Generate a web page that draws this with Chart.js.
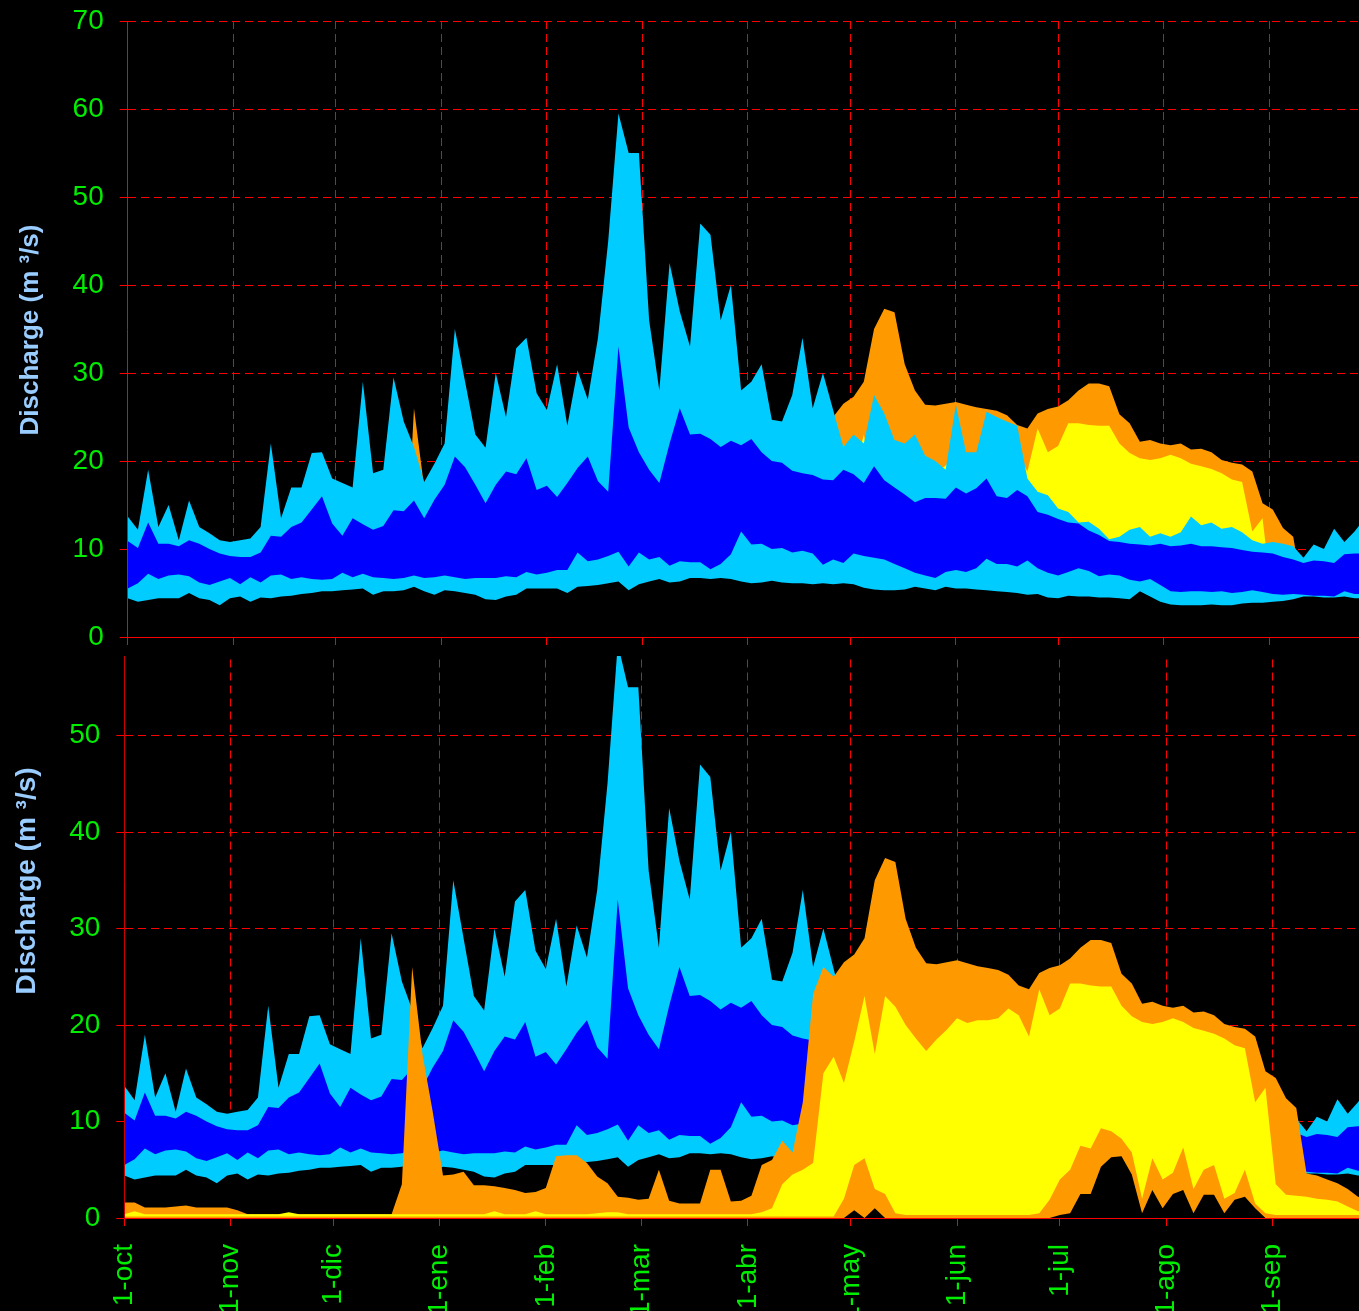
<!DOCTYPE html>
<html>
<head>
<meta charset="utf-8">
<script src="https://cdn.jsdelivr.net/npm/chart.js@4.4.1/dist/chart.umd.min.js"></script>
<style>
    html, body { margin: 0; padding: 0; background: #000; overflow: hidden; width: 1359px; height: 1311px; }
    #bottomChart { position: absolute; left: 0; top: 0; }
    #topChart { position: absolute; left: 0; top: 0; background: #000; }
</style>
</head>
<body>
<canvas id="bottomChart" width="1359" height="1400"></canvas>
<canvas id="topChart" width="1359" height="656"></canvas>
<script>
// one sample every 3 days, starting 1-oct
const DAYS = Array.from({ length: 122 }, (_, i) => i * 3);

const MONTH_DAYS = [0, 31, 61, 92, 123, 151, 182, 212, 243, 273, 304, 335];
const MONTH_LABELS = ["1-oct", "1-nov", "1-dic", "1-ene", "1-feb", "1-mar", "1-abr", "1-may", "1-jun", "1-jul", "1-ago", "1-sep"];
const Y_TICKS = [0, 10, 20, 30, 40, 50, 60, 70];

// historical record: max, 75%, 25%, min
const histMax = [
    13.7, 12.2, 19, 12.5, 15, 11, 15.5, 12.5, 11.8, 11,
    10.8, 11, 11.2, 12.5, 22, 13.5, 17, 17, 20.9, 21,
    18, 17.5, 17, 29, 18.6, 19, 29.5, 24.5, 21.6, 17.6,
    19.7, 22, 35, 29, 23, 21.5, 30, 25, 32.8, 34,
    27.7, 25.8, 31, 24, 30.3, 27, 34, 45, 59.5, 55,
    55, 36, 28, 42.5, 37, 33, 47, 45.7, 36, 40,
    28, 29, 31, 24.7, 24.5, 27.5, 34, 26, 30, 25.8,
    21.6, 23, 22, 27.5, 25.4, 22.4, 22, 23, 20.6, 20,
    19, 26.4, 21, 21, 25.6, 25, 24.5, 24, 18, 16.5,
    16.1, 14.6, 14.2, 13, 13.1, 12.3, 11.1, 11.4, 12.2, 12.5,
    11.4, 11.8, 11.4, 11.9, 13.7, 12.7, 13, 12.3, 12.5, 11.9,
    11, 10.6, 10.8, 10.6, 10.3, 9, 10.5, 10, 12.3, 10.8,
    12, 13.5
];
const histP75 = [
    10.9, 10.1, 13, 10.6, 10.6, 10.3, 11, 10.6, 10, 9.5,
    9.2, 9.1, 9.1, 9.6, 11.5, 11.4, 12.5, 13, 14.5, 16,
    12.9, 11.5, 13.5, 12.8, 12.2, 12.6, 14.4, 14.3, 15.5, 13.5,
    15.6, 17.3, 20.5, 19.3, 17.3, 15.2, 17.3, 18.8, 18.5, 20.3,
    16.7, 17.2, 15.9, 17.5, 19.2, 20.5, 17.7, 16.5, 33, 23.8,
    21, 19, 17.5, 22, 26, 23, 23.1, 22.5, 21.6, 22.3,
    21.8, 22.5, 21, 20, 19.8, 18.9, 18.6, 18.4, 17.9, 17.8,
    19, 18.5, 17.5, 19.4, 17.8, 17, 16.2, 15.3, 15.8, 15.8,
    15.7, 17, 16.3, 16.9, 18, 16, 15.8, 16.7, 16, 14.2,
    13.9, 13.4, 13, 12.9, 12.1, 11.6, 10.9, 10.8, 10.6, 10.5,
    10.4, 10.6, 10.3, 10.4, 10.6, 10.3, 10.3, 10.2, 10.1, 9.9,
    9.7, 9.6, 9.5, 9.1, 8.8, 8.4, 8.7, 8.6, 8.4, 9.4,
    9.5, 9.5
];
const histP25 = [
    5.5, 6.1, 7.2, 6.6, 7, 7.1, 6.9, 6.2, 5.9, 6.3,
    6.7, 6, 6.8, 6.2, 7, 7.1, 6.6, 6.8, 6.6, 6.5,
    6.6, 7.3, 6.8, 7.2, 6.8, 6.7, 6.6, 6.7, 7, 6.7,
    6.8, 7, 6.8, 6.6, 6.7, 6.7, 6.7, 6.9, 6.8, 7.4,
    7.1, 7.3, 7.6, 7.6, 9.6, 8.6, 8.8, 9.2, 9.7, 8,
    9.6, 8.8, 9.1, 8.1, 8.6, 8.5, 8.5, 7.7, 8.3, 9.4,
    12, 10.5, 10.6, 10, 10.1, 9.6, 9.8, 9.5, 8.2, 8.8,
    8.4, 9.5, 9.2, 9, 8.8, 8.3, 7.8, 7.3, 7, 6.7,
    7.4, 7.6, 7.4, 7.8, 8.9, 8.3, 8.3, 8, 8.7, 7.8,
    7.3, 7, 7.4, 7.8, 7.5, 6.9, 7.1, 7, 6.5, 6.3,
    6.6, 5.9, 5.2, 5.1, 5.2, 5.2, 5.1, 5.2, 5, 5.1,
    5.3, 5.1, 4.9, 4.8, 4.9, 4.8, 4.7, 4.7, 4.6, 5.2,
    4.9, 4.9
];
const histMin = [
    4.4, 4, 4.2, 4.4, 4.4, 4.4, 5, 4.4, 4.2, 3.6,
    4.4, 4.6, 4, 4.5, 4.4, 4.6, 4.7, 4.9, 5, 5.2,
    5.2, 5.3, 5.4, 5.5, 4.8, 5.2, 5.2, 5.3, 5.7, 5.2,
    4.8, 5.3, 5.2, 5, 4.8, 4.3, 4.2, 4.6, 4.8, 5.5,
    5.5, 5.5, 5.5, 5, 5.7, 5.8, 5.9, 6.1, 6.3, 5.3,
    6, 6.3, 6.6, 6.2, 6.3, 6.7, 6.7, 6.6, 6.7, 6.6,
    6.3, 6.1, 6.2, 6.4, 6.2, 6.1, 6.1, 6, 6.1, 6,
    6.1, 6, 5.6, 5.4, 5.3, 5.3, 5.4, 5.7, 5.5, 5.3,
    5.7, 5.5, 5.5, 5.4, 5.3, 5.2, 5.1, 5, 4.8, 4.9,
    4.5, 4.4, 4.7, 4.6, 4.6, 4.5, 4.5, 4.4, 4.3, 5.2,
    4.6, 4, 3.7, 3.6, 3.6, 3.6, 3.7, 3.6, 3.6, 3.8,
    3.9, 3.9, 4, 4.1, 4.3, 4.6, 4.6, 4.5, 4.5, 4.6,
    4.4, 4.4
];

// season being compared: max, 75%, 25%, min
const yearMax = [
    1.6, 1.6, 1.1, 1.1, 1.1, 1.2, 1.3, 1.1, 1.1, 1.1,
    1.1, 0.8, 0.4, 0.4, 0.4, 0.4, 0.4, 0.4, 0.4, 0.4,
    0.4, 0.4, 0.4, 0.4, 0.4, 0.4, 0.4, 3.5, 26, 17,
    11, 4.4, 4.5, 4.8, 3.4, 3.4, 3.3, 3.1, 2.9, 2.6,
    2.7, 3.1, 6.4, 6.5, 6.5, 5.7, 4.3, 3.6, 2.2, 2.1,
    1.9, 2, 5, 1.8, 1.5, 1.5, 1.5, 5, 5, 1.7,
    1.8, 2.3, 5.5, 6, 8, 6.8, 12, 23.2, 26, 25,
    26.5, 27.3, 29, 35, 37.3, 36.9, 31, 28, 26.4, 26.3,
    26.5, 26.7, 26.4, 26.1, 25.9, 25.7, 25.2, 24.1, 23.7, 25.4,
    25.9, 26.2, 26.9, 28, 28.8, 28.8, 28.5, 25.3, 24.3, 22.2,
    22.4, 22, 21.8, 22, 21.3, 21.4, 21, 20.1, 19.8, 19.6,
    18.8, 15.2, 14.5, 12.4, 11.4, 4.6, 4.4, 4, 3.6, 3,
    2.2, 2
];
const yearP75 = [
    0.4, 0.7, 0.4, 0.4, 0.4, 0.4, 0.4, 0.4, 0.4, 0.4,
    0.4, 0.4, 0.4, 0.4, 0.4, 0.4, 0.6, 0.4, 0.4, 0.4,
    0.4, 0.4, 0.4, 0.4, 0.4, 0.4, 0.4, 0.4, 0.4, 0.4,
    0.4, 0.4, 0.4, 0.4, 0.4, 0.4, 0.7, 0.4, 0.4, 0.4,
    0.7, 0.4, 0.4, 0.4, 0.4, 0.4, 0.5, 0.6, 0.6, 0.4,
    0.4, 0.4, 0.4, 0.4, 0.4, 0.4, 0.4, 0.4, 0.4, 0.4,
    0.4, 0.4, 0.6, 1, 3.5, 4.5, 5, 5.7, 15, 16.7,
    14, 18.3, 23, 17, 23, 21.9, 20, 18.6, 17.3, 18.5,
    19.5, 20.7, 20.2, 20.5, 20.5, 20.7, 21.7, 21, 18.8, 23.7,
    21, 21.7, 24.3, 24.3, 24.1, 24, 24, 22, 20.9, 20.3,
    20.1, 20.3, 20.7, 20.3, 19.7, 19.4, 19.1, 18.6, 17.9, 17.6,
    12, 13.5, 3.5, 2.4, 2.3, 2.2, 2, 1.9, 1.7, 1.2,
    0.7, 0.6
];
const yearP25 = [
    0.15, 0.15, 0.15, 0.15, 0.15, 0.15, 0.15, 0.15, 0.15, 0.15,
    0.15, 0.15, 0.15, 0.15, 0.15, 0.15, 0.15, 0.15, 0.15, 0.15,
    0.15, 0.15, 0.15, 0.15, 0.15, 0.15, 0.15, 0.15, 0.15, 0.15,
    0.15, 0.15, 0.15, 0.15, 0.15, 0.15, 0.15, 0.15, 0.15, 0.15,
    0.15, 0.15, 0.15, 0.15, 0.15, 0.15, 0.15, 0.15, 0.15, 0.15,
    0.15, 0.15, 0.15, 0.15, 0.15, 0.15, 0.15, 0.15, 0.15, 0.15,
    0.15, 0.15, 0.15, 0.15, 0.15, 0.15, 0.15, 0.15, 0.15, 0.15,
    2, 5.5, 6.2, 3, 2.5, 0.5, 0.3, 0.3, 0.3, 0.3,
    0.3, 0.3, 0.3, 0.3, 0.3, 0.3, 0.3, 0.3, 0.3, 0.5,
    1.9, 4, 5, 7.5, 7.2, 9.3, 9, 8.2, 6.8, 2,
    6.2, 4, 4.7, 7.3, 3, 5, 5.5, 2, 2.6, 5,
    1.5, 0.5, 0.3, 0.3, 0.3, 0.3, 0.3, 0.3, 0.3, 0.3,
    0.3, 0.3
];
const yearMin = [
    0, 0, 0, 0, 0, 0, 0, 0, 0, 0,
    0, 0, 0, 0, 0, 0, 0, 0, 0, 0,
    0, 0, 0, 0, 0, 0, 0, 0, 0, 0,
    0, 0, 0, 0, 0, 0, 0, 0, 0, 0,
    0, 0, 0, 0, 0, 0, 0, 0, 0, 0,
    0, 0, 0, 0, 0, 0, 0, 0, 0, 0,
    0, 0, 0, 0, 0, 0, 0, 0, 0, 0,
    0, 0.8, 0, 1, 0, 0, 0, 0, 0, 0,
    0, 0, 0, 0, 0, 0, 0, 0, 0, 0,
    0, 0.3, 0.5, 2.5, 2.5, 5.3, 6.3, 6.4, 4.5, 0.5,
    2.9, 1, 2.5, 2.9, 0.5, 2.4, 2.4, 0.5, 1.9, 2.2,
    1, 0, 0, 0, 0, 0, 0, 0, 0, 0,
    0, 0
];

const GREEN = "#00ee00";
const RED = "#ff0000";
const CYAN = "#00ccff";
const BLUE = "#0000ff";
const ORANGE = "#ff9900";
const YELLOW = "#ffff00";
const BLACK = "#000000";
const FONT = "Liberation Sans";

const area = (values, color) => ({
    data: DAYS.map((d, i) => ({ x: d, y: values[i] })),
    backgroundColor: color,
    borderWidth: 0,
    pointRadius: 0,
    fill: "origin",
    tension: 0,
});

// first dataset in a list is drawn on top
const histLayers = () => [
    area(histMin, BLACK),
    area(histP25, CYAN),
    area(histP75, BLUE),
    area(histMax, CYAN),
];
const yearLayers = () => [
    area(yearMin, BLACK),
    area(yearP25, ORANGE),
    area(yearP75, YELLOW),
    area(yearMax, ORANGE),
];

const axisTitle = (x, y, size) => ({
    id: "axisTitle",
    afterDraw(chart) {
        const ctx = chart.ctx;
        ctx.save();
        ctx.translate(x, y);
        ctx.rotate(-Math.PI / 2);
        ctx.font = `bold ${size}px "${FONT}"`;
        ctx.fillStyle = "#99ccff";
        ctx.textAlign = "center";
        ctx.textBaseline = "middle";
        ctx.fillText("Discharge (m \u00b3/s)", 0, 0);
        ctx.restore();
    }
});

const makeChart = (id, datasets, cfg) => new Chart(document.getElementById(id), {
    type: "line",
    data: { datasets },
    plugins: [axisTitle(cfg.titleX, cfg.titleY, cfg.titleSize)],
    options: {
        responsive: false,
        animation: false,
        events: [],
        layout: { autoPadding: false, padding: { top: cfg.padTop, left: 0, right: 0, bottom: 0 } },
        plugins: { legend: { display: false }, tooltip: { enabled: false } },
        scales: {
            x: {
                type: "linear",
                min: 0,
                max: cfg.xMax,
                afterBuildTicks: scale => { scale.ticks = MONTH_DAYS.map(v => ({ value: v })); },
                afterFit: scale => {
                    scale.height = cfg.xAxisHeight;
                    scale.paddingLeft = 0;
                    scale.paddingRight = 0;
                },
                ticks: {
                    display: cfg.monthLabels,
                    autoSkip: false,
                    minRotation: 90,
                    maxRotation: 90,
                    padding: 18,
                    color: GREEN,
                    font: { family: FONT, size: 28 },
                    callback: value => MONTH_LABELS[MONTH_DAYS.indexOf(value)],
                },
                grid: { color: RED, lineWidth: 1, tickLength: 8, tickColor: RED },
                border: { display: true, color: RED, width: 1, dash: [8, 5], z: 1 },
            },
            y: {
                min: 0,
                max: 70,
                afterBuildTicks: scale => { scale.ticks = Y_TICKS.map(v => ({ value: v })); },
                afterFit: scale => {
                    scale.width = cfg.yAxisWidth;
                    // keep the label overhang from pushing the plot area in
                    scale.paddingTop = 0;
                    scale.paddingBottom = 0;
                },
                ticks: { color: GREEN, padding: cfg.yPad, font: { family: FONT, size: 28 } },
                grid: { color: RED, lineWidth: 1, tickLength: 8, tickColor: RED },
                border: { display: true, color: cfg.yAxisColor, width: 1, dash: [8, 5], z: 1 },
            },
        },
    },
});

// lower panel: the season drawn in front of the record (its upper part sits under the top panel)
makeChart("bottomChart", [...yearLayers(), ...histLayers()], {
    padTop: 542.5, xAxisHeight: 182, yAxisWidth: 124.3, xMax: 360.3,
    monthLabels: true, yPad: 16, yAxisColor: "#cc0000",
    titleX: 27, titleY: 881, titleSize: 28,
});

// upper panel: the record drawn in front of the season
makeChart("topChart", [...histLayers(), ...yearLayers()], {
    padTop: 21, xAxisHeight: 19, yAxisWidth: 127.7, xMax: 361.3,
    monthLabels: false, yPad: 16, yAxisColor: RED,
    titleX: 31, titleY: 330, titleSize: 26,
});
</script>
</body>
</html>
